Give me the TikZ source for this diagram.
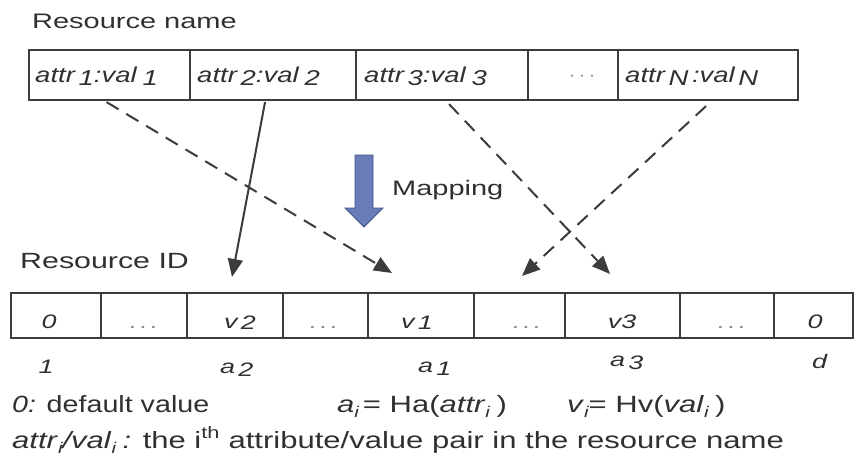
\documentclass[tikz,border=0pt]{standalone}
\usepackage{fontspec}
\setmainfont{Liberation Sans}[FakeStretch=1.38]
\newfontfamily\cellfont{Liberation Sans}[FakeStretch=1.28]
\newfontfamily\narrowfont{Liberation Sans}[FakeStretch=1.22]
\newfontfamily\midfont{Liberation Sans}[FakeStretch=1.32]
\usetikzlibrary{arrows.meta,calc}
\definecolor{ln}{HTML}{3C3C3C}
\definecolor{tx}{HTML}{303030}
\definecolor{dotc}{HTML}{8A8A8A}
\definecolor{mapfill}{HTML}{6A7BBA}
\definecolor{mapdraw}{HTML}{44528A}
\newcommand{\lo}[1]{\raisebox{-3pt}{#1}}
\newcommand{\sbs}[1]{\raisebox{-5pt}{\fontsize{15.5}{17}\selectfont\itshape #1}}
\begin{document}
\begin{tikzpicture}[x=1pt,y=-1pt,
  topcell/.style={draw=ln, line width=2.1pt, minimum height=50pt, inner sep=0pt, anchor=north west},
  botcell/.style={draw=ln, line width=2.1pt, minimum height=45pt, inner sep=0pt, anchor=north west},
  lab/.style={text=tx, inner sep=0pt, font=\fontsize{21}{25}\selectfont},
  celltxt/.style={text=tx, inner sep=0pt, font=\cellfont\fontsize{21.5}{24}\selectfont\itshape},
  idxtxt/.style={text=tx, inner sep=0pt, font=\fontsize{19.5}{22}\selectfont\itshape},
  dotstxt/.style={text=dotc, inner sep=0pt, font=\fontsize{19}{22}\selectfont},
  note/.style={text=tx, inner sep=0pt, font=\midfont\fontsize{23.5}{26}\selectfont},
  conn/.style={draw=ln, line width=2pt, -{Triangle[length=18pt,width=15pt]}},
  dashconn/.style={conn, dash pattern=on 14pt off 9pt}]
\useasboundingbox (0,0) rectangle (854,469);
% labels
\node[lab, anchor=base west] (rn) at (32,28) {Resource name};
\node[lab, anchor=base west, font=\fontsize{22}{25}\selectfont] (rid) at (20,268) {Resource ID};
\node[lab, anchor=base west] (map) at (392,195) {Mapping};
% top row
\node[topcell, minimum width=161pt] (t1) at (28,49) {};
\node[topcell, minimum width=166pt] (t2) at (189,49) {};
\node[topcell, minimum width=172pt] (t3) at (355,49) {};
\node[topcell, minimum width=90pt] (t4) at (527,49) {};
\node[topcell, minimum width=180pt] (t5) at (617,49) {};
\node[celltxt, anchor=base west] (tx1) at (35,82) {attr\,\lo{1}:val\;\lo{1}};
\node[celltxt, anchor=base west] (tx2) at (197,82) {attr\,\lo{2}:val\;\lo{2}};
\node[celltxt, anchor=base west] (tx3) at (364,82) {attr\,\lo{3}:val\;\lo{3}};
\node[dotstxt, anchor=base] (tx4) at (582,80) {\fontsize{16}{18}\selectfont ·\,·\,·};
\node[celltxt, anchor=base west] (tx5) at (625,82) {attr\,\lo{N}\,:val\,\lo{N}};
% bottom row
\node[botcell, minimum width=90pt] (b1) at (10,292) {};
\node[botcell, minimum width=86pt] (b2) at (100,292) {};
\node[botcell, minimum width=96pt] (b3) at (186,292) {};
\node[botcell, minimum width=85pt] (b4) at (282,292) {};
\node[botcell, minimum width=106pt] (b5) at (367,292) {};
\node[botcell, minimum width=91pt] (b6) at (473,292) {};
\node[botcell, minimum width=115pt] (b7) at (564,292) {};
\node[botcell, minimum width=94pt] (b8) at (679,292) {};
\node[botcell, minimum width=79pt] (b9) at (773,292) {};
\node[idxtxt, anchor=base] (v1t) at (49,328) {0};
\node[dotstxt, anchor=base] (v2t) at (143,328) {.\,.\,.};
\node[idxtxt, anchor=base] (v3t) at (240,328) {v\,\raisebox{-1pt}{2}};
\node[dotstxt, anchor=base] (v4t) at (323,328) {.\,.\,.};
\node[idxtxt, anchor=base] (v5t) at (417,328) {v\,\raisebox{-1pt}{1}};
\node[dotstxt, anchor=base] (v6t) at (526,328) {.\,.\,.};
\node[idxtxt, anchor=base] (v7t) at (622,328) {v3};
\node[dotstxt, anchor=base] (v8t) at (731,328) {.\,.\,.};
\node[idxtxt, anchor=base] (v9t) at (815,328) {0};
% index labels
\node[idxtxt, anchor=base] (i1) at (46,373) {1};
\node[idxtxt, anchor=base west] (ia2) at (220,373) {a\,\lo{2}};
\node[idxtxt, anchor=base west] (ia1) at (418,372) {a\,\lo{1}};
\node[idxtxt, anchor=base west] (ia3) at (610,366) {a\,\lo{3}};
\node[idxtxt, anchor=base west] (id) at (812,368) {d};
% notes
\node[note, anchor=base west, font=\narrowfont\fontsize{23.5}{26}\selectfont] (n1) at (12,412) {\textit{0:} default value};
\node[note, anchor=base west] (n2) at (337,412) {\textit{a}\sbs{i}\,= Ha(\textit{attr}\sbs{i}\;)};
\node[note, anchor=base west] (n3) at (567,412) {\textit{v}\sbs{i}= Hv(\textit{val}\sbs{i}\;)};
\node[note, anchor=base west] (n4) at (12,448) {\textit{attr}\sbs{i}\textit{/val}\sbs{i}\;\textit{:} the i\textsuperscript{th} attribute/value pair in the resource name};
% mapping arrow
\fill[mapfill, draw=mapdraw, line width=0.8pt] (355,155) -- (373,155) -- (373,208) -- (383,208) -- (364,227) -- (345,208) -- (355,208) -- cycle;
% connectors
\coordinate (e1) at (392,273);
\coordinate (e2) at (232,277);
\coordinate (e3) at (610,274);
\coordinate (e5) at (522,276);
\draw[dashconn] ($(t1.south)+(-3,1)$) -- (e1);
\draw[conn] ($(t2.south)+(-8,1)$) -- (e2);
\draw[dashconn] ($(t3.south)+(7,3)$) -- (e3);
\draw[dashconn] ($(t5.south)+(-2,5)$) -- (e5);
\end{tikzpicture}
\end{document}
